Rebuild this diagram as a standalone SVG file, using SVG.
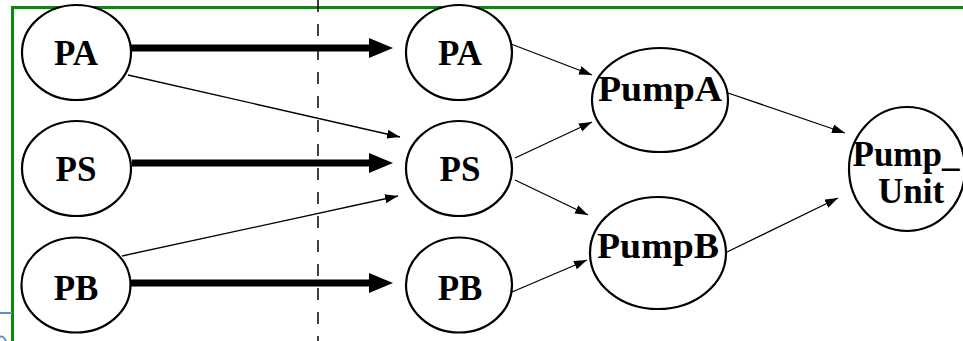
<svg xmlns="http://www.w3.org/2000/svg" width="963" height="341" viewBox="0 0 963 341">
<defs>
<style>
.n{fill:#fff;stroke:#000;stroke-width:2.2}
.thin{stroke:#000;stroke-width:1.3;fill:none;marker-end:url(#ah)}
.thick{stroke:#000;stroke-width:7;fill:none}
</style>
<marker id="ah" markerUnits="userSpaceOnUse" markerWidth="14" markerHeight="10" refX="13" refY="4.5" orient="auto">
<path d="M0,0 L13,4.5 L0,9 z" fill="#000"/>
</marker>
</defs>
<rect width="963" height="341" fill="#fff"/>
<path d="M12.5,341 V7.5 H963" fill="none" stroke="#0a8a0a" stroke-width="3"/>
<path d="M0,313 H12" stroke="#5b8fd0" stroke-width="2" fill="none"/>
<path d="M0,337 Q3,335 6,341" stroke="#5b8fd0" stroke-width="2" fill="none"/>
<line x1="318" y1="0" x2="318" y2="341" stroke="#000" stroke-width="1.5" stroke-dasharray="12 12"/>
<g id="connectors">
<line class="thick" x1="131" y1="48" x2="372" y2="48"/>
<polygon points="369,38 393,48 369,58" fill="#000"/>
<line class="thick" x1="132" y1="163" x2="372" y2="163"/>
<polygon points="369,153 393,163 369,173" fill="#000"/>
<line class="thick" x1="131" y1="283" x2="372" y2="283"/>
<polygon points="369,273 393,283 369,293" fill="#000"/>
<line class="thin" x1="128" y1="75" x2="400" y2="137"/>
<line class="thin" x1="122" y1="256" x2="398" y2="196"/>
<line class="thin" x1="511" y1="44" x2="592" y2="75"/>
<line class="thin" x1="515" y1="158" x2="592" y2="122"/>
<line class="thin" x1="515" y1="180" x2="588" y2="215"/>
<line class="thin" x1="512" y1="292" x2="587" y2="260"/>
<line class="thin" x1="728" y1="93" x2="845" y2="133"/>
<line class="thin" x1="727" y1="252" x2="838" y2="198"/>
</g>
<g font-family="Liberation Serif, DejaVu Serif, serif" font-weight="bold" font-size="35" text-anchor="middle" fill="#000">
<g id="PA_left"><ellipse class="n" cx="76.5" cy="52.5" rx="54.5" ry="47.5"/><text x="76" y="65">PA</text></g>
<g id="PS_left"><ellipse class="n" cx="76.5" cy="168.5" rx="54.5" ry="47.5"/><text x="76" y="181">PS</text></g>
<g id="PB_left"><ellipse class="n" cx="76" cy="285" rx="54.5" ry="47.5"/><text x="76" y="300">PB</text></g>
<g id="PA_mid"><ellipse class="n" cx="459" cy="52.5" rx="53" ry="47.5"/><text x="460" y="65">PA</text></g>
<g id="PS_mid"><ellipse class="n" cx="459" cy="168.5" rx="53" ry="47.5"/><text x="460" y="181">PS</text></g>
<g id="PB_mid"><ellipse class="n" cx="459" cy="285" rx="53" ry="47.5"/><text x="460" y="300">PB</text></g>
<g id="PumpA"><ellipse class="n" cx="660" cy="100" rx="68" ry="52"/><text x="660" y="101" textLength="124" lengthAdjust="spacingAndGlyphs">PumpA</text></g>
<g id="PumpB"><ellipse class="n" cx="658" cy="253" rx="68" ry="56"/><text x="658" y="258" textLength="122" lengthAdjust="spacingAndGlyphs">PumpB</text></g>
<g id="Pump_Unit"><ellipse class="n" cx="907" cy="169" rx="58" ry="62"/><text x="906" y="166">Pump_</text><text x="911" y="203">Unit</text></g>
</g>
</svg>
